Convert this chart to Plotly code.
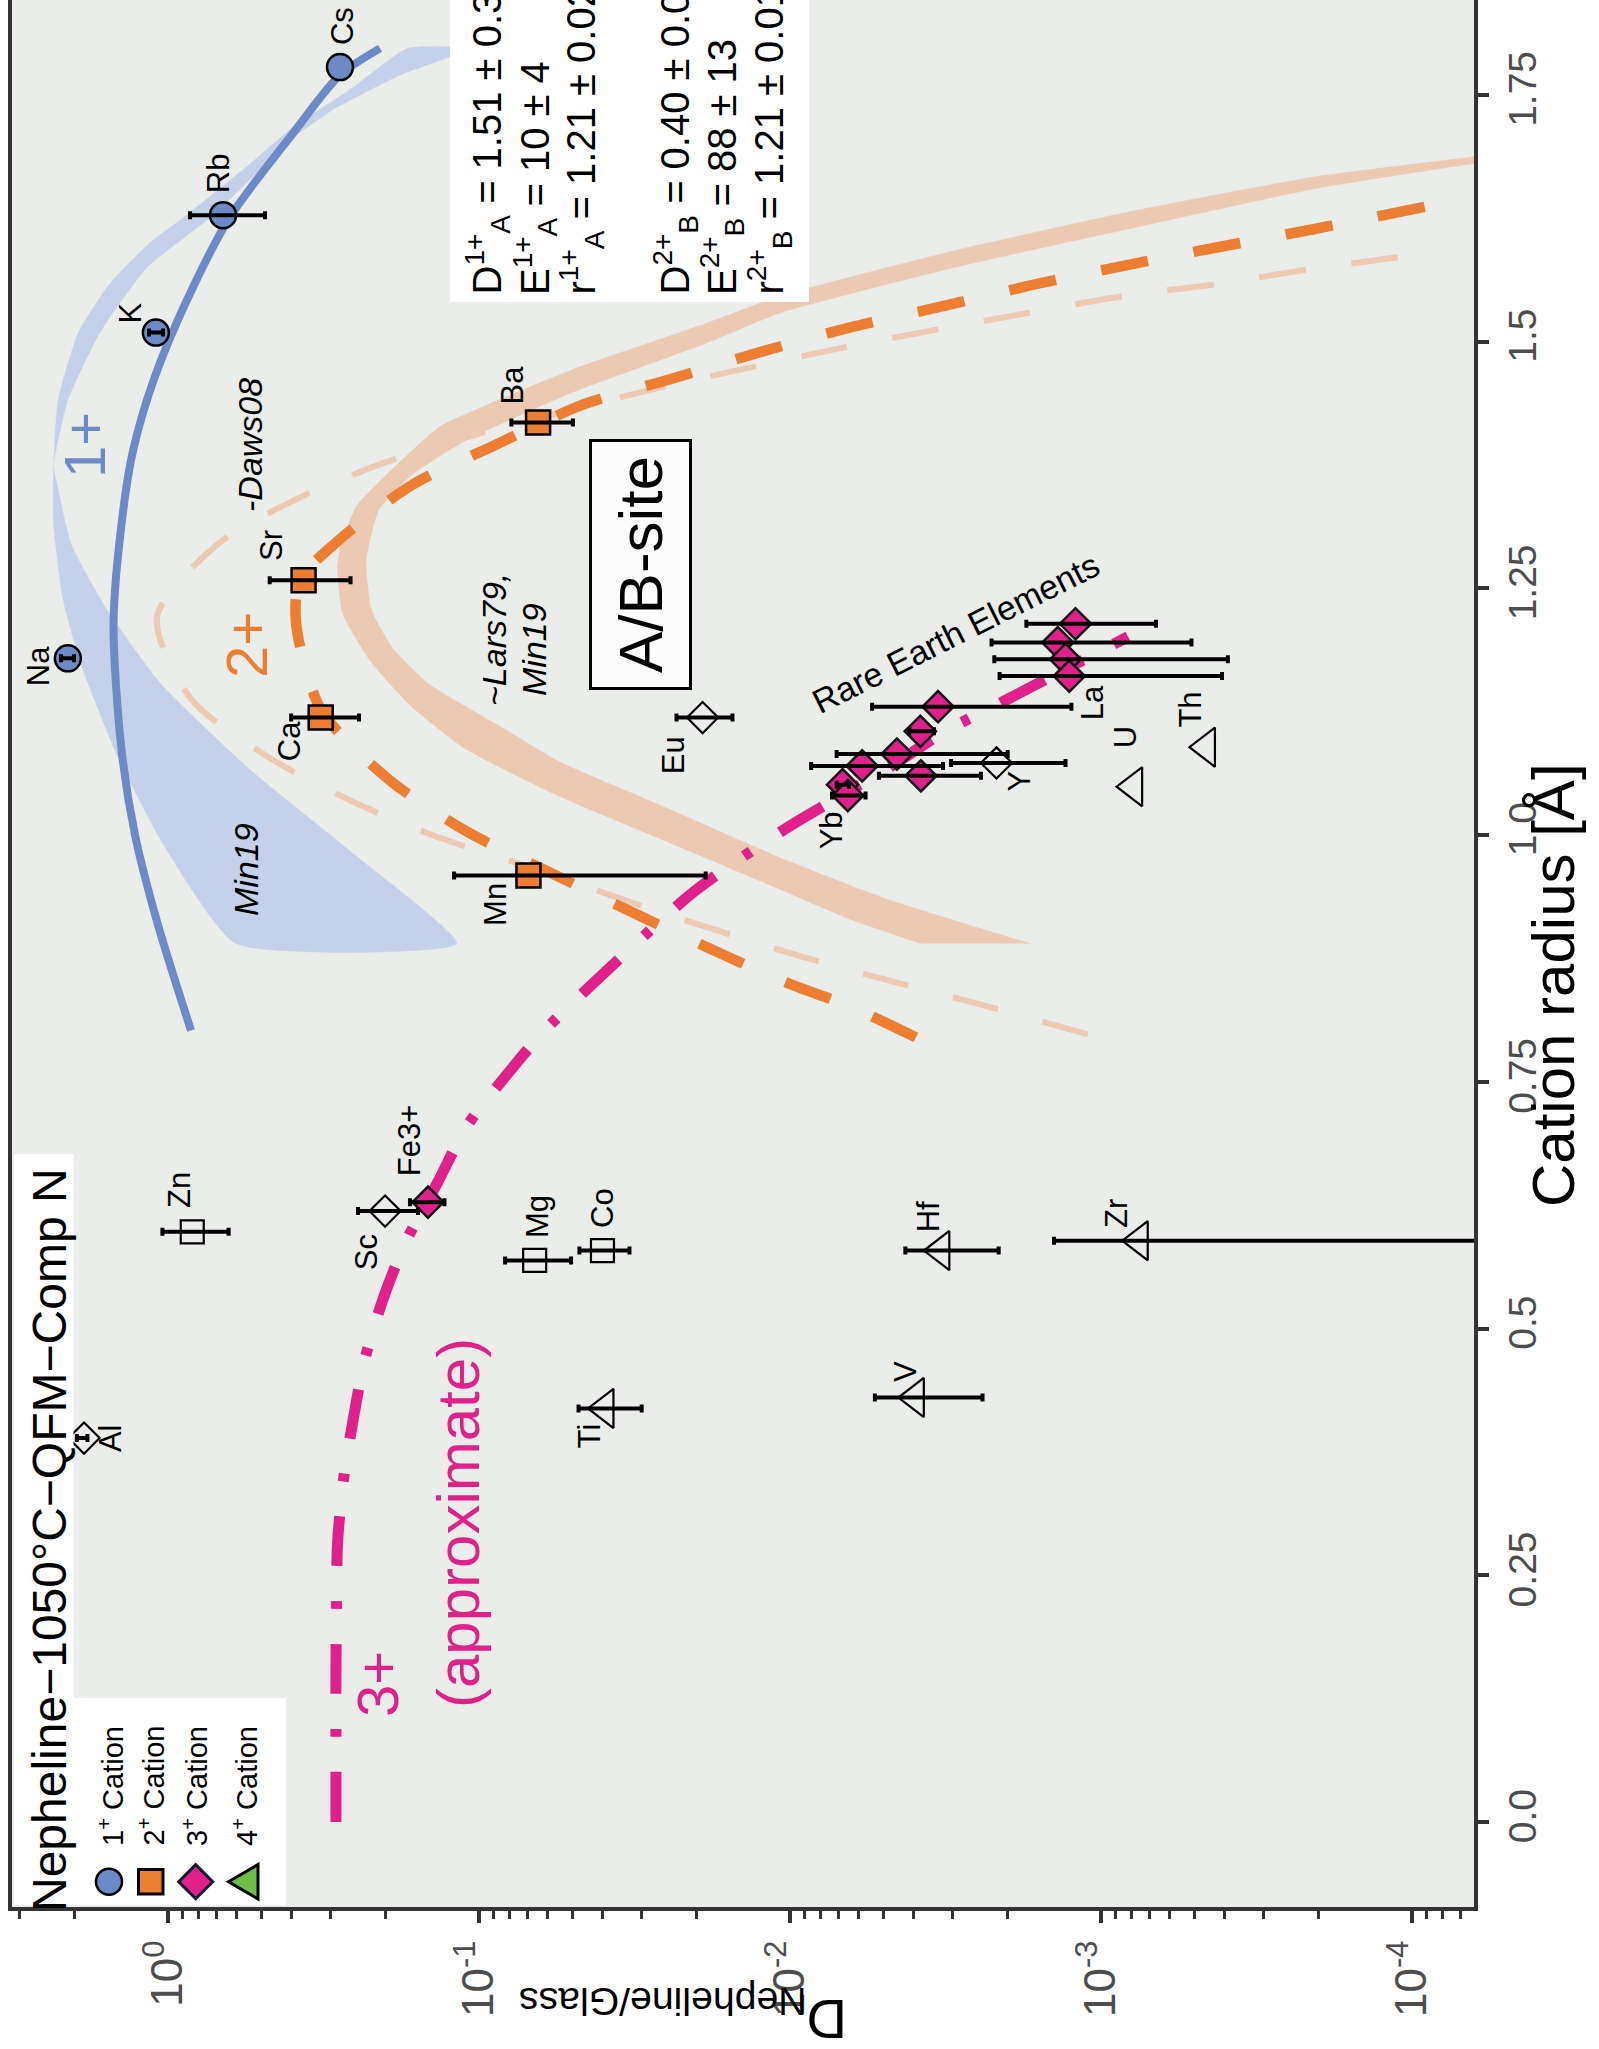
import plotly.graph_objects as go

# ---------------------------------------------------------------------------
# Data.
# D = Nepheline/Glass partition coefficient (stored as log10 D)
# r = cation radius [Å]
# ---------------------------------------------------------------------------

# 1+ cations (A-site)
c1_names = ["Na", "K", "Rb", "Cs"]
c1_r = [1.179, 1.509, 1.628, 1.778]
c1_logD = [0.322, 0.039, -0.177, -0.553]
c1_lo = [0.302, 0.016, -0.312, None]
c1_hi = [0.344, 0.061, -0.071, None]

# 2+ cations used in the B-site fit
c2_names = ["Ca", "Sr", "Ba", "Mn"]
c2_r = [1.119, 1.258, 1.418, 0.959]
c2_logD = [-0.491, -0.436, -1.190, -1.159]
c2_lo = [-0.614, -0.587, -1.302, -1.729]
c2_hi = [-0.396, -0.327, -1.104, -0.920]

# 2+ cations not fitted (open squares)
c2o_names = ["Zn", "Mg", "Co"]
c2o_r = [0.598, 0.569, 0.579]
c2o_logD = [-0.078, -1.179, -1.397]
c2o_lo = [-0.195, -1.296, -1.484]
c2o_hi = [0.018, -1.084, -1.323]

# 3+ cations (filled diamonds): Fe3+ and rare earth elements
c3_names = ["Fe3+", "La", "Ce", "Pr", "Nd", "Sm", "Gd", "Dy", "Ho", "Er", "Tm", "Yb"]
c3_r = [0.628, 1.214, 1.195, 1.178, 1.161, 1.130, 1.105, 1.082, 1.070, 1.060, 1.051, 1.040]
c3_logD = [-0.836, -2.918, -2.861, -2.886, -2.898, -2.476, -2.419, -2.344, -2.232, -2.421, -2.169, -2.186]
c3_lo = [-0.889, -3.177, -3.291, -3.408, -3.389, -2.905, -2.463, -2.700, -2.492, -2.614, -2.190, -2.243]
c3_hi = [-0.778, -2.760, -2.648, -2.657, -2.674, -2.264, -2.384, -2.150, -2.068, -2.286, -2.150, -2.135]

# 3+ cations (open diamonds)
c3o_names = ["Sc", "Al", "Eu", "Y"]
c3o_r = [0.619, 0.389, 1.119, 1.073]
c3o_logD = [-0.698, 0.270, -1.719, -2.664]
c3o_lo = [-0.804, 0.259, -1.815, -2.886]
c3o_hi = [-0.611, 0.293, -1.635, -2.518]

# 4+ cations (open triangles)
c4_names = ["Ti", "V", "Hf", "Zr", "U", "Th"]
c4_r = [0.419, 0.430, 0.579, 0.589, 1.049, 1.089]
c4_logD = [-1.405, -2.403, -2.485, -3.123, -3.105, -3.339]
c4_lo = [-1.523, -2.619, -2.671, -6.0, None, None]
c4_hi = [-1.320, -2.273, -2.371, -2.849, None, None]

# 1+ lattice-strain fit (solid blue)
fit1_r = [0.802, 0.912, 1.000, 1.088, 1.215, 1.329, 1.390, 1.461, 1.542, 1.626, 1.711, 1.770, 1.797]
fit1_logD = [-0.074, 0.035, 0.106, 0.150, 0.175, 0.144, 0.112, 0.046, -0.061, -0.199, -0.402, -0.553, -0.682]

# 1+ Min19 band (light blue), lower and upper parts
min19a_r = [1.374, 1.316, 1.241, 1.175, 1.079, 0.995, 0.890, 0.890, 0.978, 1.066, 1.153, 1.228, 1.294, 1.369]
min19a_logD = [0.368, 0.368, 0.339, 0.282, 0.161, 0.023, -0.218, -0.929, -0.608, -0.264, 0.023, 0.196, 0.311, 0.366]
min19b_r = [1.374, 1.441, 1.509, 1.559, 1.600, 1.628, 1.677, 1.717, 1.755, 1.797, 1.797,
            1.770, 1.735, 1.704, 1.677, 1.628, 1.575, 1.509, 1.441, 1.380]
min19b_logD = [0.368, 0.353, 0.288, 0.186, 0.058, -0.060, -0.253, -0.402, -0.585, -0.772, -0.971,
               -0.746, -0.531, -0.392, -0.305, -0.145, 0.068, 0.219, 0.322, 0.367]

# 2+ Lars79 / Min19 band (salmon): outer edge then inner edge
lars_r = [0.890, 0.916, 0.945, 0.995, 1.039, 1.088, 1.131, 1.175, 1.224, 1.272, 1.294, 1.334, 1.388,
          1.414, 1.472, 1.519, 1.546, 1.593, 1.633, 1.667, 1.687, 1.694,
          1.686, 1.680, 1.655, 1.616, 1.576, 1.529, 1.499, 1.449, 1.399, 1.364, 1.329, 1.277, 1.228,
          1.189, 1.153, 1.110, 1.074, 1.029, 0.977, 0.935, 0.890]
lars_logD = [-2.420, -2.183, -1.968, -1.592, -1.260, -0.953, -0.780, -0.654, -0.562, -0.545, -0.556, -0.608, -0.780,
             -0.875, -1.305, -1.736, -1.968, -2.542, -3.116, -3.690, -4.193, -4.347,
             -4.347, -4.193, -3.690, -3.116, -2.542, -1.968, -1.736, -1.305, -0.953, -0.780, -0.677, -0.637, -0.654,
             -0.723, -0.838, -1.068, -1.260, -1.592, -1.968, -2.312, -2.772]

# 2+ B-site lattice-strain fit (orange dashed)
fit2_r = [0.795, 0.826, 0.851, 0.899, 0.964, 1.004, 1.057, 1.127, 1.214, 1.258, 1.297, 1.354, 1.395,
          1.436, 1.462, 1.490, 1.515, 1.536, 1.558, 1.578, 1.596, 1.614, 1.638]
fit2_logD = [-2.405, -2.196, -1.984, -1.646, -1.215, -0.958, -0.707, -0.492, -0.412, -0.424, -0.543, -0.781, -1.051,
             -1.334, -1.617, -1.912, -2.203, -2.495, -2.789, -3.092, -3.384, -3.687, -4.064]

# 2+ Daws08 curve (light salmon dashed)
daws_r = [0.798, 0.830, 0.854, 0.878, 0.922, 0.967, 0.999, 1.036, 1.081, 1.138, 1.221, 1.295, 1.342,
          1.378, 1.406, 1.430, 1.453, 1.474, 1.494, 1.512, 1.529, 1.546, 1.558, 1.573, 1.589]
daws_logD = [-2.958, -2.593, -2.301, -2.025, -1.582, -1.167, -0.858, -0.579, -0.312, -0.074, 0.035, -0.161, -0.424,
             -0.703, -0.993, -1.285, -1.577, -1.876, -2.174, -2.471, -2.767, -3.069, -3.367, -3.666, -4.042]

# 3+ approximate curve (magenta dash-dot)
fit3_r = [0.000, 0.089, 0.154, 0.218, 0.281, 0.344, 0.407, 0.469, 0.533, 0.590, 0.648, 0.705, 0.755,
          0.802, 0.875, 0.943, 1.005, 1.069, 1.105, 1.134, 1.201]
fit3_logD = [-0.540, -0.540, -0.540, -0.542, -0.545, -0.563, -0.595, -0.633, -0.695, -0.768, -0.867, -0.961, -1.084,
             -1.211, -1.453, -1.693, -1.979, -2.322, -2.498, -2.678, -3.087]

# axis ticks
r_ticks = [0, 0.25, 0.5, 0.75, 1.0, 1.25, 1.5, 1.75]
r_ticktext = ["0.0", "0.25", "0.5", "0.75", "1.0", "1.25", "1.5", "1.75"]
D_ticks = [1, 0.1, 0.01, 0.001, 0.0001]
D_ticktext = ["10<sup>0</sup>", "10<sup>-1</sup>", "10<sup>-2</sup>", "10<sup>-3</sup>", "10<sup>-4</sup>"]
D_minor = [k * 10.0 ** e for e in range(0, -6, -1) for k in range(2, 10)]

legend_text = ["1<sup>+</sup> Cation", "2<sup>+</sup> Cation", "3<sup>+</sup> Cation", "4<sup>+</sup> Cation"]
param_text = ["D<sup>1+</sup><sub>A</sub> = 1.51 ± 0.39",
              "E<sup>1+</sup><sub>A</sub> = 10 ± 4",
              "r<sup>1+</sup><sub>A</sub> = 1.21 ± 0.02",
              "D<sup>2+</sup><sub>B</sub> = 0.40 ± 0.04",
              "E<sup>2+</sup><sub>B</sub> = 88 ± 13",
              "r<sup>2+</sup><sub>B</sub> = 1.21 ± 0.01"]

# ---------------------------------------------------------------------------
# Layout helpers / styles
# ---------------------------------------------------------------------------
FIG_W, FIG_H = 1599, 2049
M_L, M_R, M_T, M_B = 12, 125, 0, 142
PLOT_W = FIG_W - M_L - M_R
PLOT_H = FIG_H - M_T - M_B


def px(X):
    return (X - M_L) / PLOT_W


def py(Y):
    return (M_T + PLOT_H - Y) / PLOT_H


def lin(vals):
    return [10 ** v for v in vals]


BLUE = "#6E8AC6"
BLUE_BAND = "#C5D1EA"
SALMON = "#EBC9B3"
ORANGE = "#ED7D31"
MAGENTA = "#E0218A"
GREEN = "#6DBE45"
PANEL = "#EBEDEB"
AXIS = "#333333"
TICKTXT = "#4D4D4D"
FONT = "Liberation Sans, Arial, Helvetica, sans-serif"
LABEL_SIZE = 31

fig = go.Figure()


def band(logD, r, color):
    fig.add_trace(go.Scatter(x=lin(logD), y=r, mode="lines", fill="toself", fillcolor=color,
                             line=dict(color=color, width=0.5, shape="spline", smoothing=0.5),
                             hoverinfo="skip", showlegend=False))


def curve(logD, r, color, width, dash):
    fig.add_trace(go.Scatter(x=lin(logD), y=r, mode="lines",
                             line=dict(color=color, width=width, dash=dash, shape="spline", smoothing=0.8),
                             hoverinfo="skip", showlegend=False))


def points(logD, r, symbol, size, color, lcolor, lwidth):
    fig.add_trace(go.Scatter(x=lin(logD), y=r, mode="markers",
                             marker=dict(symbol=symbol, size=size, color=color,
                                         line=dict(color=lcolor, width=lwidth)),
                             hoverinfo="skip", showlegend=False))


def errors(logD, r, lo, hi):
    xs, ys, plus, minus = [], [], [], []
    for v, rr, l, h in zip(logD, r, lo, hi):
        if l is None:
            continue
        d = 10 ** v
        xs.append(d)
        ys.append(rr)
        plus.append(10 ** h - d)
        minus.append(d - 10 ** l)
    fig.add_trace(go.Scatter(x=xs, y=ys, mode="markers", marker=dict(size=2, opacity=0),
                             error_x=dict(type="data", symmetric=False, array=plus, arrayminus=minus,
                                          color="black", thickness=4, width=4),
                             hoverinfo="skip", showlegend=False))


# bands
band(min19a_logD, min19a_r, BLUE_BAND)
band(min19b_logD, min19b_r, BLUE_BAND)
band(lars_logD, lars_r, SALMON)
# curves
curve(daws_logD, daws_r, SALMON, 6, "47px,46px")
curve(fit1_logD, fit1_r, BLUE, 8, "solid")
curve(fit2_logD, fit2_r, ORANGE, 10.5, "48px,46px")
curve(fit3_logD, fit3_r, MAGENTA, 11, "50px,35px,8px,35px")

# markers
points(c1_logD, c1_r, "circle", 26, BLUE, "black", 2.5)
points(c2_logD, c2_r, "square", 24, ORANGE, "black", 2.5)
points(c2o_logD, c2o_r, "square-open", 23, "black", "black", 2.2)
points(c3_logD, c3_r, "diamond", 24, MAGENTA, "#141414", 2.5)
points(c3o_logD, c3o_r, "diamond-open", 24, "black", "black", 2.2)
points(c4_logD, c4_r, "triangle-left-open", 34, "black", "black", 2.2)

# error bars on top
errors(c1_logD, c1_r, c1_lo, c1_hi)
errors(c2_logD, c2_r, c2_lo, c2_hi)
errors(c2o_logD, c2o_r, c2o_lo, c2o_hi)
errors(c3_logD, c3_r, c3_lo, c3_hi)
errors(c3o_logD, c3o_r, c3o_lo, c3o_hi)
errors(c4_logD, c4_r, c4_lo, c4_hi)

# ---------------------------------------------------------------------------
# Annotations
# ---------------------------------------------------------------------------
ann = []

# point labels: offset (dx, dy) in pixels from the marker
label_offsets = {
    "Na": (-30, 8), "K": (-25, -20), "Rb": (-5, -42), "Cs": (2, -41),
    "Ca": (-31, 24), "Sr": (-32, -35), "Ba": (-26, -37), "Mn": (-33, 29),
    "Zn": (-12, -42), "Mg": (3, -44), "Co": (0, -43),
    "Fe3+": (-19, -62), "La": (17, 79), "Yb": (-16, 35),
    "Sc": (-19, 41), "Al": (26, 0), "Eu": (-29, 38), "Y": (23, 18),
    "Ti": (-15, 27), "V": (-10, -26), "Hf": (-12, -34), "Zr": (-23, -27),
    "U": (-8, -49), "Th": (-16, -38),
}

groups = [(c1_names, c1_logD, c1_r), (c2_names, c2_logD, c2_r), (c2o_names, c2o_logD, c2o_r),
          (c3_names, c3_logD, c3_r), (c3o_names, c3o_logD, c3o_r), (c4_names, c4_logD, c4_r)]
for names, lds, rs in groups:
    for n, v, rr in zip(names, lds, rs):
        if n not in label_offsets:
            continue
        dx, dy = label_offsets[n]
        ann.append(dict(x=v, y=rr, xref="x", yref="y", text=n, textangle=-90, showarrow=False,
                        xshift=dx, yshift=-dy, font=dict(size=LABEL_SIZE, color="black")))


def ptext(X, Y, text, size, color="black", angle=-90, **kw):
    d = dict(x=px(X), y=py(Y), xref="paper", yref="paper", text=text, textangle=angle,
             showarrow=False, font=dict(size=size, color=color), xanchor="center", yanchor="middle")
    d.update(kw)
    ann.append(d)


# curve labels
ptext(84, 445, "1+", 58, BLUE)
ptext(246, 645, "2+", 58, ORANGE)
ptext(377, 1684, "3+", 58, MAGENTA)
ptext(458, 1523, "(approximate)", 60, MAGENTA)
ptext(246, 870, "<i>Min19</i>", 34)
ptext(250, 445, "<i>-Daws08</i>", 34)
ptext(494, 640, "<i>~Lars79,</i>", 34)
ptext(534, 650, "<i>Min19</i>", 34)
ptext(641, 565, "A/B-site", 62, bgcolor="#FBFCFB", bordercolor="black", borderwidth=3, borderpad=14)
ptext(956, 633, "Rare Earth Elements", 34, angle=-26.6)

# title
ptext(49, 1540, "Nepheline\u22121050°C\u2212QFM\u2212Comp N", 48)

# legend entries
for X, t in zip([111, 151.5, 195, 245], legend_text):
    ptext(X, 1786, t, 29)

# parameter box text
for X, t in zip([488, 535, 582, 676, 722, 770], param_text):
    ptext(X, 297, t, 40, yanchor="bottom")

# axis titles
ptext(1553, 985, "Cation radius [Å]", 60)
ptext(683, 2015, "D<sub>Nepheline/Glass</sub>", 56, angle=180)

# ---------------------------------------------------------------------------
# Shapes: white boxes and legend keys
# ---------------------------------------------------------------------------
shapes = [
    dict(type="rect", xref="paper", yref="paper", x0=px(14), x1=px(73.5), y0=py(1905), y1=py(1154),
         fillcolor="white", line=dict(width=0), layer="above"),
    dict(type="rect", xref="paper", yref="paper", x0=px(73), x1=px(286), y0=py(1905), y1=py(1698),
         fillcolor="white", line=dict(width=0), layer="above"),
    dict(type="rect", xref="paper", yref="paper", x0=px(450), x1=px(809), y0=py(302), y1=1.0,
         fillcolor="white", line=dict(width=0), layer="above"),
    # legend keys
    dict(type="circle", xref="paper", yref="paper", x0=px(96), x1=px(122), y0=py(1894.7), y1=py(1868.7),
         fillcolor=BLUE, line=dict(color="black", width=2.5), layer="above"),
    dict(type="rect", xref="paper", yref="paper", x0=px(138.5), x1=px(163), y0=py(1894), y1=py(1869.5),
         fillcolor=ORANGE, line=dict(color="black", width=3), layer="above"),
    dict(type="path", xref="paper", yref="paper",
         path=f"M {px(178.7)},{py(1881.7)} L {px(195.7)},{py(1864.7)} L {px(212.7)},{py(1881.7)} "
              f"L {px(195.7)},{py(1898.7)} Z",
         fillcolor=MAGENTA, line=dict(color="#141432", width=3), layer="above"),
    dict(type="path", xref="paper", yref="paper",
         path=f"M {px(228.5)},{py(1881.7)} L {px(258)},{py(1864.5)} L {px(258)},{py(1899)} Z",
         fillcolor=GREEN, line=dict(color="black", width=3), layer="above"),
]

fig.update_layout(
    width=FIG_W, height=FIG_H,
    margin=dict(l=M_L, r=M_R, t=M_T, b=M_B, pad=0),
    paper_bgcolor="white", plot_bgcolor=PANEL,
    font=dict(family=FONT, color="black"),
    showlegend=False,
    annotations=ann, shapes=shapes,
    xaxis=dict(type="log", range=[0.5016, -4.1994], tickvals=D_ticks, ticktext=D_ticktext,
               tickangle=-90, ticks="outside", ticklen=12, tickwidth=4, tickcolor=AXIS,
               tickfont=dict(size=44, color=TICKTXT), showline=True, linewidth=4, linecolor=AXIS,
               showgrid=False, zeroline=False, mirror=False,
               minor=dict(tickvals=D_minor, ticks="outside", ticklen=8, tickwidth=3, tickcolor=AXIS,
                          showgrid=False)),
    yaxis=dict(range=[-0.0861, 1.846], side="right", tickvals=r_ticks, ticktext=r_ticktext,
               tickangle=-90, ticks="outside", ticklen=11, tickwidth=4, tickcolor=AXIS,
               tickfont=dict(size=39, color=TICKTXT), showline=True, linewidth=4, linecolor=AXIS,
               mirror=True, showgrid=False, zeroline=False),
)

fig.write_html("out.html", include_plotlyjs=True, full_html=True,
               config={"displayModeBar": False},
               post_script="document.body.style.margin='0px';")
